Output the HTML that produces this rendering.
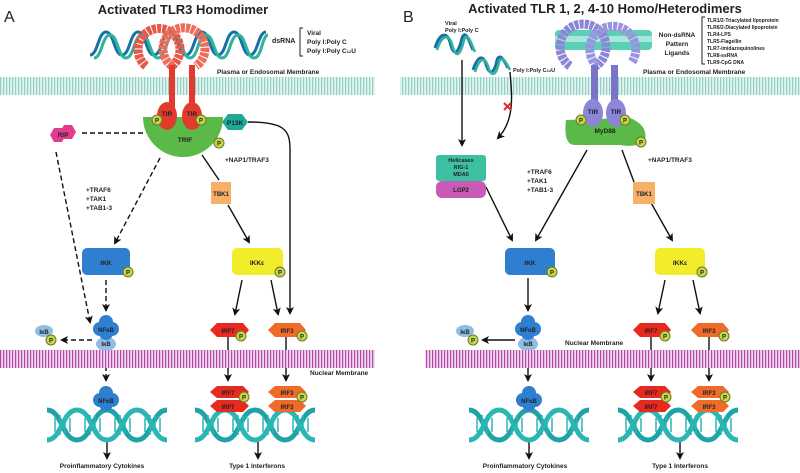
<!DOCTYPE html>
<html><head><meta charset="utf-8"><style>
html,body{margin:0;padding:0;background:#fff}
svg{display:block}
text{font-family:"Liberation Sans",sans-serif;font-weight:bold;fill:#222}
</style></head><body>
<svg width="800" height="473" viewBox="0 0 800 473" xmlns="http://www.w3.org/2000/svg">
<defs>
<marker id="ah" markerWidth="8" markerHeight="8" refX="6" refY="4" orient="auto" markerUnits="userSpaceOnUse"><path d="M0,0 L8,4 L0,8 L2,4z" fill="#111"/></marker>
<pattern id="mem" width="3" height="20" patternUnits="userSpaceOnUse"><rect width="3" height="20" fill="#e4f4f0"/><rect width="1.2" height="20" fill="#8fd0c4"/></pattern>
<pattern id="nmem" width="3" height="20" patternUnits="userSpaceOnUse"><rect width="3" height="20" fill="#f1d9ef"/><rect width="1.2" height="20" fill="#b24aa8"/></pattern>
<g id="P"><circle r="5" fill="#c7d64a" stroke="#6a7a20" stroke-width="1"/><text x="0" y="2.5" font-size="6" text-anchor="middle">P</text></g>
<g id="dna">
<path d="M0,0 C15,0 15,30 30,30 C45,30 45,0 60,0 C75,0 75,30 90,30 C105,30 105,0 120,0" fill="none" stroke="#1fa3a8" stroke-width="5"/>
<path d="M0,30 C15,30 15,0 30,0 C45,0 45,30 60,30 C75,30 75,0 90,0 C105,0 105,30 120,30" fill="none" stroke="#2bb6b4" stroke-width="5"/>
<g stroke="#2bb6b4" stroke-width="1.5"><path d="M8,8v14M13,5v20M18,5v20M23,8v14M38,8v14M43,5v20M48,5v20M53,8v14M68,8v14M73,5v20M78,5v20M83,8v14M98,8v14M103,5v20M108,5v20M113,8v14"/></g>
</g>
<g id="nfkb"><circle cx="-6" cy="0" r="7"/><circle cx="6" cy="0" r="7"/><circle cx="0" cy="-7" r="7"/><circle cx="0" cy="4" r="7"/></g>
</defs>

<!-- ================= PANEL A ================= -->
<text x="4" y="22" font-size="16" style="font-weight:normal">A</text>
<text x="183" y="14" font-size="13" text-anchor="middle">Activated TLR3 Homodimer</text>
<path d="M90,55 C98,55 98,32 106,32 C114,32 114,55 122,55 C130,55 130,32 138,32 C146,32 146,55 154,55 C162,55 162,32 170,32 C178,32 178,55 186,55 C194,55 194,32 202,32 C210,32 210,55 218,55 C226,55 226,32 234,32 C242,32 242,55 250,55 C258,55 258,32 266,32" fill="none" stroke="#1a6fa8" stroke-width="3"/>
<path d="M94,58 C102,58 102,35 110,35 C118,35 118,58 126,58 C134,58 134,35 142,35 C150,35 150,58 158,58 C166,58 166,35 174,35 C182,35 182,58 190,58 C198,58 198,35 206,35 C214,35 214,58 222,58 C230,58 230,35 238,35 C246,35 246,58 254,58 C262,58 262,35 268,35" fill="none" stroke="#2cb59a" stroke-width="3"/>
<text x="272" y="43" font-size="7">dsRNA</text>
<path d="M303,28 h-3 v28 h3" fill="none" stroke="#222"/>
<text x="307" y="35" font-size="6.5">Viral</text>
<text x="307" y="44" font-size="6.5">Poly I:Poly C</text>
<text x="307" y="53" font-size="6.5">Poly I:Poly C<tspan font-size="4">12</tspan>U</text>
<path d="M146,66 A21,21 0 1 1 172,66" fill="none" stroke="#e8584a" stroke-width="9" stroke-dasharray="4 1"/>
<path d="M172,66 A21,21 0 1 1 196,66" fill="none" stroke="#ef6b5a" stroke-width="9" stroke-dasharray="4 1"/>
<rect x="0" y="77" width="375" height="18" fill="url(#mem)"/>
<text x="217" y="74" font-size="6.5">Plasma or Endosomal Membrane</text>
<rect x="169" y="65" width="6" height="45" fill="#e23b2e"/>
<rect x="189" y="65" width="6" height="45" fill="#e23b2e"/>
<path d="M143,117 A40,40 0 0 0 223,117 Z" fill="#5ab947"/>
<ellipse cx="167" cy="116" rx="10" ry="14" fill="#e23b2e"/>
<ellipse cx="192" cy="116" rx="10" ry="14" fill="#e23b2e"/>
<text x="167" y="116" font-size="6.5" text-anchor="middle">TIR</text>
<text x="192" y="116" font-size="6.5" text-anchor="middle">TIR</text>
<text x="185" y="142" font-size="6.5" text-anchor="middle">TRIF</text>
<use href="#P" x="157" y="120"/><use href="#P" x="201" y="120"/><use href="#P" x="219" y="143"/>
<polygon points="222,122 228,114 242,114 248,122 242,130 228,130" fill="#1ea896"/>
<text x="235" y="125" font-size="6.5" text-anchor="middle">P13K</text>
<g fill="#e33c8f"><polygon points="50,135 54,128 62,128 66,135 62,142 54,142"/><polygon points="60,132 64,125 72,125 76,132 72,139 64,139"/></g>
<text x="63" y="137" font-size="6.5" text-anchor="middle">RIP</text>
<g stroke="#111" stroke-width="1.4" fill="none">
<path d="M82,133 H143" stroke-dasharray="5 3"/>
<path d="M56,152 L90,322" stroke-dasharray="5 3" marker-end="url(#ah)"/>
<path d="M160,158 L115,243" stroke-dasharray="5 3" marker-end="url(#ah)"/>
<path d="M202,155 L219,180"/>
<path d="M228,205 L249,242" marker-end="url(#ah)"/>
<path d="M248,122 C285,122 290,130 290,150 V313" marker-end="url(#ah)"/>
<path d="M106,280 V310" stroke-dasharray="5 3" marker-end="url(#ah)"/>
<path d="M92,340 H62" stroke-dasharray="5 3" marker-end="url(#ah)"/>
<path d="M106,350 V380" stroke-dasharray="5 3" marker-end="url(#ah)"/>
<path d="M242,280 L235,314" marker-end="url(#ah)"/>
<path d="M271,280 L278,314" marker-end="url(#ah)"/>
<path d="M228,336 V380" marker-end="url(#ah)"/>
<path d="M286,336 V380" marker-end="url(#ah)"/>
<path d="M107,441 V458" marker-end="url(#ah)"/>
<path d="M258,441 V458" marker-end="url(#ah)"/>
</g>
<rect x="211" y="182" width="20" height="22" fill="#f7b06a"/>
<text x="221" y="196" font-size="6" text-anchor="middle">TBK1</text>
<text x="86" y="192" font-size="6.5">+TRAF6</text>
<text x="86" y="201" font-size="6.5">+TAK1</text>
<text x="86" y="210" font-size="6.5">+TAB1-3</text>
<text x="225" y="162" font-size="6.5">+NAP1/TRAF3</text>
<rect x="82" y="248" width="48" height="27" rx="5" fill="#2e7fcf"/>
<text x="106" y="265" font-size="6.5" text-anchor="middle">IKK</text><use href="#P" x="128" y="272"/>
<rect x="232" y="248" width="51" height="27" rx="5" fill="#f3ec2a"/>
<text x="257" y="265" font-size="6.5" text-anchor="middle">IKKε</text><use href="#P" x="280" y="272"/>
<ellipse cx="106" cy="344" rx="10" ry="7" fill="#8fbde4"/>
<use href="#nfkb" x="106" y="329" fill="#2e7fcf"/>
<text x="106" y="332" font-size="6" text-anchor="middle">NFκB</text>
<text x="106" y="346" font-size="6" text-anchor="middle">IκB</text>
<ellipse cx="44" cy="331" rx="9" ry="6" fill="#8fbde4"/><text x="44" y="334" font-size="6" text-anchor="middle">IκB</text>
<use href="#P" x="51" y="340"/>
<polygon points="210,330 217,323 243,323 249,330 243,337 217,337" fill="#e8291f"/>
<text x="228" y="333" font-size="6" text-anchor="middle">IRF7</text><use href="#P" x="241" y="336"/>
<polygon points="268,330 275,323 300,323 306,330 300,337 275,337" fill="#f06a2a"/>
<text x="287" y="333" font-size="6" text-anchor="middle">IRF3</text><use href="#P" x="302" y="336"/>
<rect x="0" y="350" width="375" height="18" fill="url(#nmem)"/>
<text x="310" y="375" font-size="6.5">Nuclear Membrane</text>
<use href="#dna" x="47" y="410"/>
<use href="#dna" x="195" y="410"/>
<use href="#nfkb" x="106" y="400" fill="#2e7fcf"/>
<text x="106" y="403" font-size="6" text-anchor="middle">NFκB</text>
<polygon points="210,392 217,386 243,386 249,392 243,398 217,398" fill="#e8291f"/>
<polygon points="210,406 217,400 243,400 249,406 243,412 217,412" fill="#e8291f"/>
<text x="228" y="395" font-size="6" text-anchor="middle">IRF7</text><text x="228" y="409" font-size="6" text-anchor="middle">IRF7</text><use href="#P" x="244" y="397"/>
<polygon points="268,392 275,386 300,386 306,392 300,398 275,398" fill="#f06a2a"/>
<polygon points="268,406 275,400 300,400 306,406 300,412 275,412" fill="#f06a2a"/>
<text x="287" y="395" font-size="6" text-anchor="middle">IRF3</text><text x="287" y="409" font-size="6" text-anchor="middle">IRF3</text><use href="#P" x="302" y="397"/>
<text x="102" y="468" font-size="6.5" text-anchor="middle">Proinflammatory Cytokines</text>
<text x="257" y="468" font-size="6.5" text-anchor="middle">Type 1 Interferons</text>

<!-- ================= PANEL B ================= -->
<text x="403" y="22" font-size="16" style="font-weight:normal">B</text>
<text x="605" y="13" font-size="13" text-anchor="middle">Activated TLR 1, 2, 4-10 Homo/Heterodimers</text>
<text x="445" y="25" font-size="5.5">Viral</text>
<text x="445" y="32" font-size="5.5">Poly I:Poly C</text>
<path d="M435,48 C440,32 447,32 450,42 C453,56 458,56 462,38 C466,28 470,44 473,50" fill="none" stroke="#1a6fa8" stroke-width="3"/>
<path d="M437,50 C442,34 449,34 452,44 C455,58 460,58 464,40 C468,30 472,46 475,52" fill="none" stroke="#2cb59a" stroke-width="2.5"/>
<path d="M473,70 C478,55 483,55 486,64 C489,75 494,75 497,60 C500,52 505,62 508,68" fill="none" stroke="#1a6fa8" stroke-width="3"/>
<path d="M475,72 C480,57 485,57 488,66 C491,77 496,77 499,62 C502,54 507,64 510,70" fill="none" stroke="#2cb59a" stroke-width="2.5"/>
<text x="513" y="72" font-size="5.5">Poly I:Poly C<tspan font-size="4">12</tspan>U</text>
<rect x="555" y="30" width="97" height="20" rx="4" fill="#5ccfb8"/>
<rect x="555" y="36" width="97" height="6" fill="#a8e8dc"/>
<path d="M570,66 A23,23 0 1 1 596,66" fill="none" stroke="#8c86d8" stroke-width="9" stroke-dasharray="4 1"/>
<path d="M597,66 A23,23 0 1 1 632,62" fill="none" stroke="#9a94e0" stroke-width="9" stroke-dasharray="4 1"/>
<text x="677" y="37" font-size="6.5" text-anchor="middle">Non-dsRNA</text>
<text x="677" y="46" font-size="6.5" text-anchor="middle">Pattern</text>
<text x="677" y="55" font-size="6.5" text-anchor="middle">Ligands</text>
<path d="M705,17 h-3 v47 h3" fill="none" stroke="#222"/>
<g font-size="5">
<text x="707" y="22">TLR1/2-Triacylated lipoprotein</text>
<text x="707" y="29">TLR6/2-Diacylated lipoprotein</text>
<text x="707" y="36">TLR4-LPS</text>
<text x="707" y="43">TLR5-Flagellin</text>
<text x="707" y="50">TLR7-imidazoquinolines</text>
<text x="707" y="57">TLR8-ssRNA</text>
<text x="707" y="64">TLR9-CpG DNA</text>
</g>
<rect x="400" y="77" width="400" height="18" fill="url(#mem)"/>
<text x="643" y="74" font-size="6.5">Plasma or Endosomal Membrane</text>
<rect x="591" y="65" width="7" height="45" fill="#7a74c8"/>
<rect x="611" y="65" width="7" height="45" fill="#7a74c8"/>
<path d="M566,120 Q563,145 575,145 L620,145 Q638,148 645,140 Q648,125 630,118 Z" fill="#5ab947"/>
<ellipse cx="593" cy="113" rx="10" ry="14" fill="#8c86d8"/>
<ellipse cx="616" cy="113" rx="10" ry="14" fill="#8c86d8"/>
<text x="593" y="114" font-size="6.5" text-anchor="middle">TIR</text>
<text x="616" y="114" font-size="6.5" text-anchor="middle">TIR</text>
<text x="605" y="133" font-size="6.5" text-anchor="middle">MyD88</text>
<use href="#P" x="581" y="120"/><use href="#P" x="625" y="120"/><use href="#P" x="641" y="142"/>
<g stroke="#111" stroke-width="1.4" fill="none">
<path d="M462,60 V145" marker-end="url(#ah)"/>
<path d="M510,72 C512,95 515,120 498,138" marker-end="url(#ah)"/>
<path d="M486,187 L512,240" marker-end="url(#ah)"/>
<path d="M587,150 L536,240" marker-end="url(#ah)"/>
<path d="M622,150 L634,182"/>
<path d="M650,201 L672,240" marker-end="url(#ah)"/>
<path d="M528,278 V310" marker-end="url(#ah)"/>
<path d="M515,340 H483" marker-end="url(#ah)"/>
<path d="M528,350 V380" marker-end="url(#ah)"/>
<path d="M665,280 L658,313" marker-end="url(#ah)"/>
<path d="M693,280 L700,313" marker-end="url(#ah)"/>
<path d="M651,336 V380" marker-end="url(#ah)"/>
<path d="M709,336 V380" marker-end="url(#ah)"/>
<path d="M529,441 V458" marker-end="url(#ah)"/>
<path d="M680,441 V458" marker-end="url(#ah)"/>
</g>
<path d="M504,103 l7,7 M511,103 l-7,7" stroke="#e8291f" stroke-width="2"/>
<rect x="436" y="155" width="50" height="26" rx="3" fill="#3cbfa3"/>
<text x="461" y="162" font-size="5.5" text-anchor="middle">Helicases</text>
<text x="461" y="169" font-size="5.5" text-anchor="middle">RIG-1</text>
<text x="461" y="176" font-size="5.5" text-anchor="middle">MDA5</text>
<rect x="436" y="181" width="50" height="17" rx="6" fill="#c75bb5"/>
<text x="461" y="192" font-size="6" text-anchor="middle">LGP2</text>
<text x="527" y="174" font-size="6.5">+TRAF6</text>
<text x="527" y="183" font-size="6.5">+TAK1</text>
<text x="527" y="192" font-size="6.5">+TAB1-3</text>
<text x="648" y="162" font-size="6.5">+NAP1/TRAF3</text>
<rect x="633" y="182" width="22" height="22" fill="#f7b06a"/>
<text x="644" y="196" font-size="6" text-anchor="middle">TBK1</text>
<rect x="505" y="248" width="50" height="27" rx="5" fill="#2e7fcf"/>
<text x="530" y="265" font-size="6.5" text-anchor="middle">IKK</text><use href="#P" x="552" y="272"/>
<rect x="655" y="248" width="50" height="27" rx="5" fill="#f3ec2a"/>
<text x="680" y="265" font-size="6.5" text-anchor="middle">IKKε</text><use href="#P" x="702" y="272"/>
<ellipse cx="528" cy="344" rx="10" ry="7" fill="#8fbde4"/>
<use href="#nfkb" x="528" y="329" fill="#2e7fcf"/>
<text x="528" y="332" font-size="6" text-anchor="middle">NFκB</text>
<text x="528" y="346" font-size="6" text-anchor="middle">IκB</text>
<ellipse cx="465" cy="331" rx="9" ry="6" fill="#8fbde4"/><text x="465" y="334" font-size="6" text-anchor="middle">IκB</text>
<use href="#P" x="473" y="340"/>
<text x="565" y="345" font-size="6.5">Nuclear Membrane</text>
<polygon points="633,330 640,323 665,323 671,330 665,337 640,337" fill="#e8291f"/>
<text x="651" y="333" font-size="6" text-anchor="middle">IRF7</text><use href="#P" x="665" y="336"/>
<polygon points="691,330 698,323 723,323 729,330 723,337 698,337" fill="#f06a2a"/>
<text x="709" y="333" font-size="6" text-anchor="middle">IRF3</text><use href="#P" x="724" y="336"/>
<rect x="425" y="350" width="375" height="18" fill="url(#nmem)"/>
<use href="#dna" x="469" y="410"/>
<use href="#dna" x="618" y="410"/>
<use href="#nfkb" x="529" y="400" fill="#2e7fcf"/>
<text x="529" y="403" font-size="6" text-anchor="middle">NFκB</text>
<polygon points="633,392 640,386 665,386 671,392 665,398 640,398" fill="#e8291f"/>
<polygon points="633,406 640,400 665,400 671,406 665,412 640,412" fill="#e8291f"/>
<text x="651" y="395" font-size="6" text-anchor="middle">IRF7</text><text x="651" y="409" font-size="6" text-anchor="middle">IRF7</text><use href="#P" x="666" y="397"/>
<polygon points="691,392 698,386 723,386 729,392 723,398 698,398" fill="#f06a2a"/>
<polygon points="691,406 698,400 723,400 729,406 723,412 698,412" fill="#f06a2a"/>
<text x="709" y="395" font-size="6" text-anchor="middle">IRF3</text><text x="709" y="409" font-size="6" text-anchor="middle">IRF3</text><use href="#P" x="725" y="397"/>
<text x="525" y="468" font-size="6.5" text-anchor="middle">Proinflammatory Cytokines</text>
<text x="680" y="468" font-size="6.5" text-anchor="middle">Type 1 Interferons</text>
</svg>
</body></html>
